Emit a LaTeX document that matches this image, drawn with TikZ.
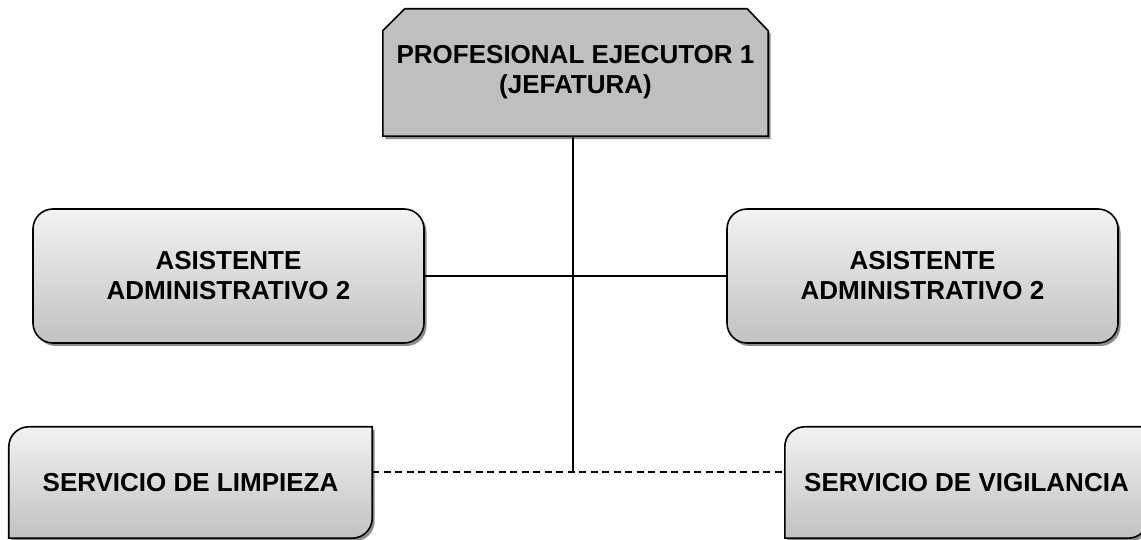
\documentclass[tikz,border=0pt]{standalone}
\usepackage{fontspec}
\setmainfont{Liberation Sans}
\usetikzlibrary{shadows}
\pgfdeclarelayer{bg}
\pgfsetlayers{bg,main}
\begin{document}
\begin{tikzpicture}[x=1bp,y=1bp,
  lbl/.style={font=\bfseries\fontsize{26bp}{30bp}\selectfont, align=center, inner sep=0pt, text=black},
  frame/.style={draw=black, line width=1.6bp},
  boxshade/.style={top color=black!5, bottom color=black!24},
  shd/.style={drop shadow={shadow xshift=2.5bp, shadow yshift=-3bp, fill=black!45, opacity=1}},
  conn/.style={line width=1.5bp},
  dashconn/.style={conn, dash pattern=on 7bp off 4.5bp}]
\useasboundingbox (0,0) rectangle (1141,540);
% nodes
\node[lbl, minimum width=385bp, minimum height=127bp] (top) at (575.5,467.5) {PROFESIONAL EJECUTOR 1\\(JEFATURA)};
\node[lbl, frame, boxshade, shd, rounded corners=20bp, minimum width=391bp, minimum height=134bp] (ml) at (228.5,264) {ASISTENTE\\ADMINISTRATIVO 2};
\node[lbl, frame, boxshade, shd, rounded corners=20bp, minimum width=391bp, minimum height=134bp] (mr) at (922.5,264) {ASISTENTE\\ADMINISTRATIVO 2};
\node[lbl, minimum width=363bp, minimum height=111bp] (bl) at (190.5,57.5) {SERVICIO DE LIMPIEZA};
\node[lbl, minimum width=363bp, minimum height=111bp] (br) at (966.5,57.5) {SERVICIO DE VIGILANCIA};
\begin{pgfonlayer}{bg}
\path[frame, fill=black!25, shd] (top.south west) -- ([yshift=-22bp]top.north west) -- ([xshift=22bp]top.north west) -- ([xshift=-21bp]top.north east) -- ([yshift=-22bp]top.north east) -- (top.south east) -- cycle;
\path[frame, boxshade, shd] (bl.south west) -- ([yshift=-20bp]bl.north west) arc[start angle=180, end angle=90, radius=20bp] -- (bl.north east) -- ([yshift=20bp]bl.south east) arc[start angle=0, end angle=-90, radius=20bp] -- cycle;
\path[frame, boxshade, shd] (br.south west) -- ([yshift=-20bp]br.north west) arc[start angle=180, end angle=90, radius=20bp] -- (br.north east) -- ([yshift=20bp]br.south east) arc[start angle=0, end angle=-90, radius=20bp] -- cycle;
\end{pgfonlayer}
% connectors
\coordinate (j) at (573,68);
\draw[conn] (top.south -| j) -- (j);
\draw[conn] (ml.east) -- (mr.west);
\draw[dashconn] (bl.east |- j) -- (br.west |- j);
\end{tikzpicture}
\end{document}
